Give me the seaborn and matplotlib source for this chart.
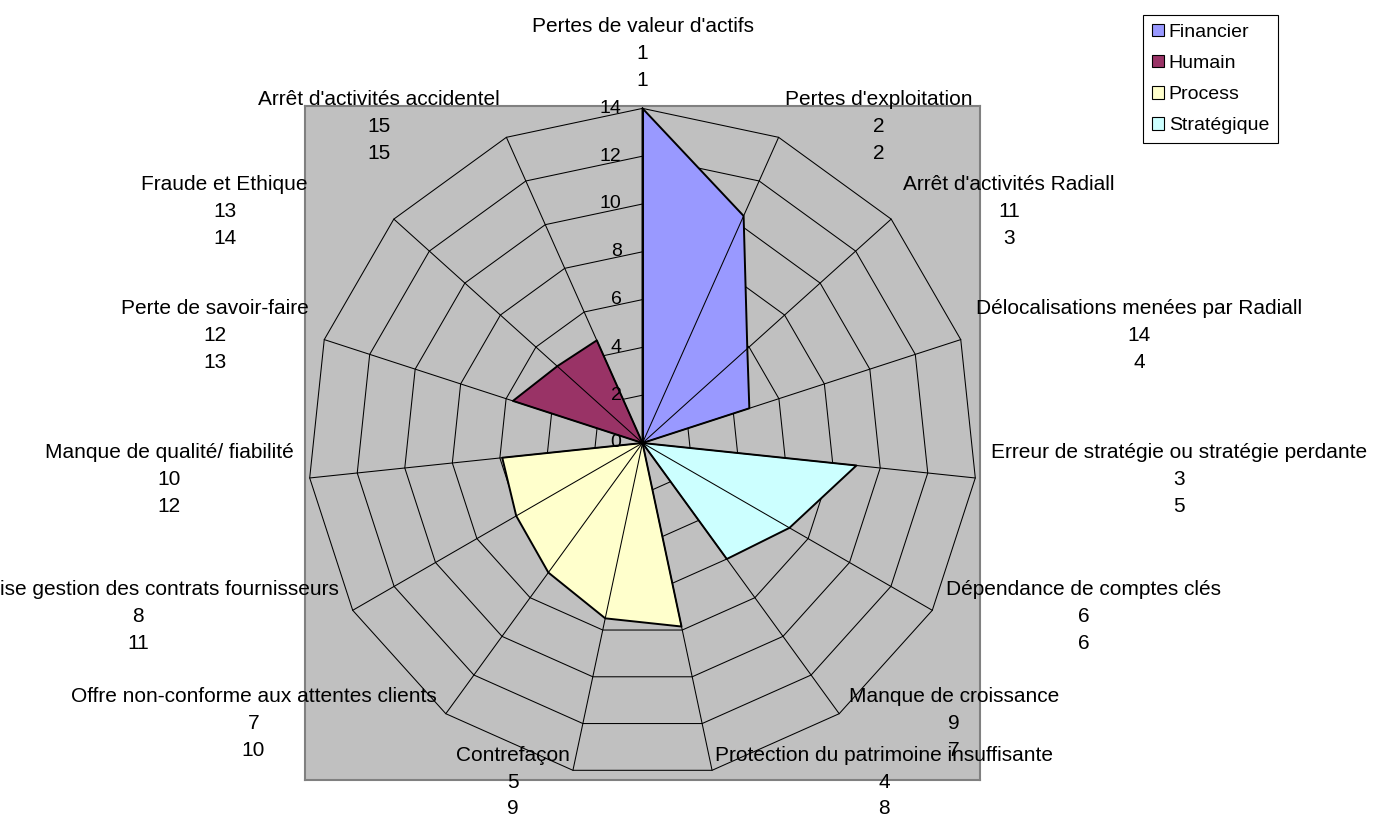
import numpy as np
import matplotlib
matplotlib.use("Agg")
import matplotlib.pyplot as plt
from matplotlib.patches import Patch
import seaborn as sns

# Risk categories, clockwise from the top spoke
categories = [
    "Pertes de valeur d'actifs",
    "Pertes d'exploitation",
    "Arrêt d'activités Radiall",
    "Délocalisations menées par Radiall",
    "Erreur de stratégie ou stratégie perdante",
    "Dépendance de comptes clés",
    "Manque de croissance",
    "Protection du patrimoine insuffisante",
    "Contrefaçon",
    "Offre non-conforme aux attentes clients",
    "Mauvaise gestion des contrats fournisseurs",
    "Manque de qualité/ fiabilité",
    "Perte de savoir-faire",
    "Fraude et Ethique",
    "Arrêt d'activités accidentel",
]
risk_numbers = [1, 2, 11, 14, 3, 6, 9, 4, 5, 7, 8, 10, 12, 13, 15]
axis_order = [1, 2, 3, 4, 5, 6, 7, 8, 9, 10, 11, 12, 13, 14, 15]

# Scores per family of risk
financier = [14, 10.4, 5.9, 4.7, 0, 0, 0, 0, 0, 0, 0, 0, 0, 0, 0]
humain = [0, 0, 0, 0, 0, 0, 0, 0, 0, 0, 0, 0, 5.7, 4.8, 4.7]
process = [0, 0, 0, 0, 0, 0, 0, 7.85, 7.5, 6.7, 6.1, 5.9, 0, 0, 0]
strategique = [0, 0, 0, 0, 9, 7.1, 6, 0, 0, 0, 0, 0, 0, 0, 0]

series_names = ["Financier", "Humain", "Process", "Stratégique"]
series_values = [financier, humain, process, strategique]
series_colors = ["#9999FF", "#993366", "#FFFFCC", "#CCFFFF"]

radial_ticks = [0, 2, 4, 6, 8, 10, 12, 14]

sns.set_style("white")
plt.rcParams["font.family"] = ["Liberation Sans", "DejaVu Sans"]
plt.rcParams["text.color"] = "black"

W, H = 1380, 818
fig = plt.figure(figsize=(W / 100, H / 100), dpi=100)
ax = fig.add_axes([305 / W, 1 - 780 / H, 675 / W, 674 / H])
ax.set_facecolor("#C0C0C0")
for sp in ax.spines.values():
    sp.set_color("#808080")
    sp.set_linewidth(1.5)
ax.set_xticks([])
ax.set_yticks([])
ax.set_xlim(-14.12, 14.12)
ax.set_ylim(-14.10, 14.10)

n = len(categories)
rmax = radial_ticks[-1]
theta = np.arange(n) * 2 * np.pi / n
sin_t, cos_t = np.sin(theta), np.cos(theta)

# polygonal rings
for v in radial_ticks[1:]:
    xs = np.append(v * sin_t, v * sin_t[0])
    ys = np.append(v * cos_t, v * cos_t[0])
    ax.plot(xs, ys, color="black", lw=0.75, zorder=1)

# filled series
for name, vals, col in zip(series_names, series_values, series_colors):
    r = np.asarray(vals, dtype=float)
    xs = np.append(r * sin_t, r[0] * sin_t[0])
    ys = np.append(r * cos_t, r[0] * cos_t[0])
    ax.fill(xs, ys, facecolor=col, edgecolor="none", zorder=2)
    sns.lineplot(x=xs, y=ys, sort=False, estimator=None, color="black",
                 lw=1.4, ax=ax, zorder=4, legend=False)

# spokes
for s, c in zip(sin_t, cos_t):
    ax.plot([0, rmax * s], [0, rmax * c], color="black", lw=0.75, zorder=3)

px2pt = 72 / 100

# radial scale labels along the top spoke
for v in radial_ticks:
    ax.annotate(str(v), (0, v), xytext=(-21 * px2pt, 0), textcoords="offset points",
                ha="right", va="center", fontsize=14, color="black", zorder=6,
                annotation_clip=False)

# category labels
label_nudge = {13: -74}
for i, (name, num, rank) in enumerate(zip(categories, risk_numbers, axis_order)):
    s, c = sin_t[i], cos_t[i]
    if abs(s) < 1e-9:
        ha, va = "center", "bottom"
        dx, dy = 0.0, 18.0
    else:
        ha = "left" if s > 0 else "right"
        va = "center"
        dx, dy = 16 * s, 12 * c
    dx += label_nudge.get(i, 0)
    ax.annotate(f"{name}\n{num}\n{rank}", (rmax * s, rmax * c),
                xytext=(dx * px2pt, dy * px2pt), textcoords="offset points",
                ha=ha, va=va, multialignment="center", linespacing=1.53,
                fontsize=15, color="black", zorder=7, annotation_clip=False)

handles = [Patch(facecolor=col, edgecolor="black", lw=0.8) for col in series_colors]
leg = fig.legend(handles, series_names, loc="upper left",
                 bbox_to_anchor=(1143 / W, 1 - 15 / H), frameon=True,
                 fancybox=False, edgecolor="black", framealpha=1, fontsize=14,
                 handlelength=0.62, handleheight=0.62, handletextpad=0.25,
                 labelspacing=0.72, borderpad=0.45, borderaxespad=0)
leg.get_frame().set_linewidth(0.8)
for t in leg.get_texts():
    t.set_color("black")

fig.savefig("out.png", dpi=100)
